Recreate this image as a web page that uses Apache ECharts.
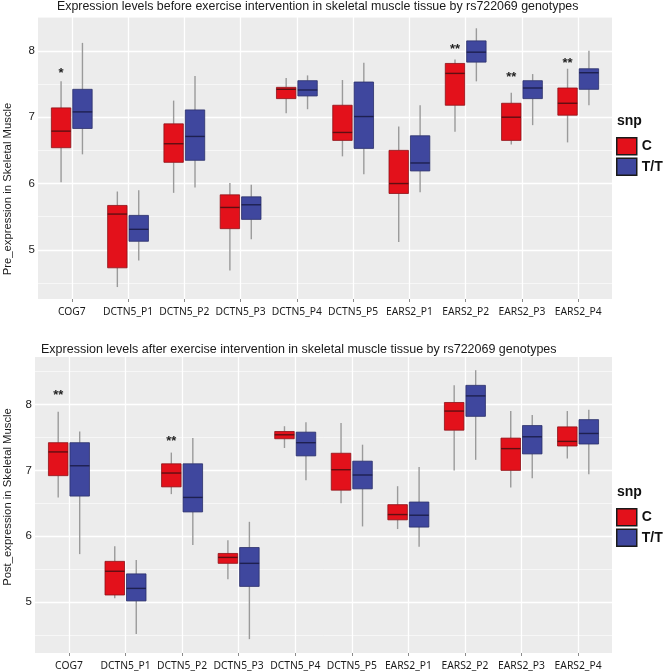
<!DOCTYPE html>
<html>
<head>
<meta charset="utf-8">
<title>Expression levels by rs722069 genotypes</title>
<script src="https://cdn.jsdelivr.net/npm/echarts@6/dist/echarts.min.js"></script>
<style>
  html, body { margin: 0; padding: 0; background: #fff; }
  #main { width: 666px; height: 672px; }
</style>
</head>
<body>
<div id="main"></div>
<script>
// categories (probes)
const categories = ['COG7', 'DCTN5_P1', 'DCTN5_P2', 'DCTN5_P3', 'DCTN5_P4', 'DCTN5_P5', 'EARS2_P1', 'EARS2_P2', 'EARS2_P3', 'EARS2_P4'];
const yTicks = [5, 6, 7, 8];
const yMinorTicks = [4.5, 5.5, 6.5, 7.5, 8.5];

// box stats: [lower whisker, Q1, median, Q3, upper whisker]
// before exercise
const preC = [
  [6.02, 6.54, 6.79, 7.14, 7.54],
  [4.44, 4.73, 5.54, 5.67, 5.88],
  [5.86, 6.32, 6.60, 6.90, 7.25],
  [4.69, 5.32, 5.64, 5.83, 6.01],
  [7.06, 7.28, 7.42, 7.45, 7.59],
  [6.41, 6.65, 6.77, 7.18, 7.56],
  [5.12, 5.85, 6.00, 6.50, 6.86],
  [6.78, 7.18, 7.66, 7.81, 7.87],
  [6.59, 6.65, 7.00, 7.21, 7.37],
  [6.62, 7.03, 7.21, 7.44, 7.73]
];
const preTT = [
  [6.44, 6.83, 7.08, 7.42, 8.12],
  [4.84, 5.13, 5.31, 5.52, 5.90],
  [5.94, 6.35, 6.71, 7.11, 7.62],
  [5.16, 5.46, 5.68, 5.80, 5.98],
  [7.12, 7.32, 7.41, 7.55, 7.63],
  [6.14, 6.53, 7.01, 7.53, 7.82],
  [5.87, 6.19, 6.31, 6.72, 7.18],
  [7.54, 7.83, 7.98, 8.15, 8.34],
  [6.88, 7.28, 7.44, 7.55, 7.65],
  [7.18, 7.42, 7.67, 7.73, 8.00]
];
// after exercise
const postC = [
  [6.59, 6.92, 7.28, 7.42, 7.89],
  [5.06, 5.11, 5.47, 5.62, 5.85],
  [6.64, 6.75, 6.96, 7.10, 7.27],
  [5.35, 5.59, 5.68, 5.74, 5.94],
  [7.34, 7.48, 7.54, 7.59, 7.67],
  [6.50, 6.70, 7.01, 7.26, 7.72],
  [6.11, 6.25, 6.33, 6.48, 6.76],
  [7.00, 7.61, 7.90, 8.03, 8.29],
  [6.74, 7.00, 7.33, 7.49, 7.90],
  [7.18, 7.37, 7.44, 7.66, 7.90]
];
const postTT = [
  [5.73, 6.61, 7.07, 7.42, 7.59],
  [4.52, 5.02, 5.21, 5.43, 5.64],
  [5.87, 6.37, 6.59, 7.10, 7.49],
  [4.44, 5.24, 5.59, 5.83, 6.22],
  [6.85, 7.22, 7.42, 7.58, 7.73],
  [6.15, 6.72, 6.93, 7.14, 7.39],
  [5.84, 6.14, 6.32, 6.52, 7.05],
  [7.16, 7.82, 8.13, 8.29, 8.52],
  [6.88, 7.25, 7.51, 7.68, 7.84],
  [6.94, 7.40, 7.56, 7.77, 7.92]
];

// significance marks (category index, height, text)
const preStarCat = [0, 7, 8, 9];
const preStarY = [7.71, 8.07, 7.65, 7.86];
const preStarText = ['*', '**', '**', '**'];
const postStarCat = [0, 2];
const postStarY = [8.18, 7.49];
const postStarText = ['**', '**'];

const RED = '#E3111B';
const BLUE = '#3F479E';
const DODGE = 0.19;   // half dodge distance, in category units
const BOXW = 0.345;   // box width, in category units

function toBoxData(stats) {
  return stats.map((s, i) => [i + 1].concat(s));
}

function boxRenderer(side, fill, stroke, medianColor) {
  return function (params, api) {
    const x = api.value(0);
    const unit = api.size([1, 0])[0];
    const cx = api.coord([x, api.value(3)])[0] + side * DODGE * unit;
    const half = BOXW * unit / 2;
    const yLow = api.coord([x, api.value(1)])[1];
    const yQ1 = api.coord([x, api.value(2)])[1];
    const yMed = api.coord([x, api.value(3)])[1];
    const yQ3 = api.coord([x, api.value(4)])[1];
    const yHigh = api.coord([x, api.value(5)])[1];
    const whisker = { stroke: '#9a9a9a', lineWidth: 1.4 };
    return {
      type: 'group',
      children: [
        { type: 'line', shape: { x1: cx, y1: yHigh, x2: cx, y2: yQ3 }, style: whisker },
        { type: 'line', shape: { x1: cx, y1: yQ1, x2: cx, y2: yLow }, style: whisker },
        { type: 'rect', shape: { x: cx - half, y: yQ3, width: half * 2, height: yQ1 - yQ3 }, style: { fill: fill, stroke: stroke, lineWidth: 0.8 } },
        { type: 'line', shape: { x1: cx - half, y1: yMed, x2: cx + half, y2: yMed }, style: { stroke: medianColor, lineWidth: 1.4 } }
      ]
    };
  };
}

function starRenderer(texts) {
  return function (params, api) {
    const unit = api.size([1, 0])[0];
    const p = api.coord([api.value(0), api.value(1)]);
    return {
      type: 'text',
      x: p[0] - DODGE * unit,
      y: p[1] + 3,
      style: { text: texts[params.dataIndex], fill: '#222', font: 'bold 13px "Liberation Sans"', align: 'center', verticalAlign: 'middle' }
    };
  };
}

function boxSeries(name, stats, side, gridIdx, fill, stroke, medianColor) {
  return {
    name: name,
    type: 'custom',
    xAxisIndex: gridIdx,
    yAxisIndex: gridIdx * 2,
    itemStyle: { color: fill },
    encode: { x: 0, y: [1, 2, 3, 4, 5] },
    renderItem: boxRenderer(side, fill, stroke, medianColor),
    data: toBoxData(stats)
  };
}

function starSeries(cats, ys, texts, gridIdx) {
  return {
    type: 'custom',
    xAxisIndex: gridIdx,
    yAxisIndex: gridIdx * 2,
    encode: { x: 0, y: 1 },
    renderItem: starRenderer(texts),
    data: cats.map((c, i) => [c + 1, ys[i]])
  };
}

function xAxis(gridIdx, margin) {
  const vals = categories.map((c, i) => i + 1);
  return {
    gridIndex: gridIdx,
    type: 'value',
    min: 0.4,
    max: 10.6,
    axisLine: { show: false },
    axisTick: { show: true, length: 3, customValues: vals, lineStyle: { color: '#8a8a8a' } },
    axisLabel: {
      customValues: vals,
      margin: margin,
      formatter: v => categories[Math.round(v) - 1],
      fontFamily: 'Noto Sans',
      fontSize: 10.3,
      color: '#1a1a1a'
    },
    splitLine: { show: true, lineStyle: { color: '#ffffff', width: 1.3 } }
  };
}

function yAxes(gridIdx, min, max, name, gap, pad) {
  return [{
    gridIndex: gridIdx,
    type: 'value',
    min: min,
    max: max,
    name: name,
    nameLocation: 'middle',
    nameGap: gap,
    nameMoveOverlap: false,
    nameTextStyle: { fontFamily: 'Liberation Sans', fontSize: 11.3, color: '#1a1a1a', padding: pad },
    axisLine: { show: false },
    axisTick: { show: false, customValues: yTicks },
    axisLabel: { customValues: yTicks, margin: 3, fontFamily: 'Liberation Sans', fontSize: 11.5, color: '#1a1a1a' },
    splitLine: { show: true, lineStyle: { color: '#ffffff', width: 1.3 } }
  }, {
    gridIndex: gridIdx,
    type: 'value',
    min: min,
    max: max,
    axisLine: { show: false },
    axisTick: { show: false, customValues: yMinorTicks },
    axisLabel: { show: false, customValues: yMinorTicks },
    splitLine: { show: true, lineStyle: { color: '#ffffff', width: 0.6 } }
  }];
}

function legend(top) {
  return {
    orient: 'vertical',
    left: 616,
    top: top,
    padding: 0,
    itemWidth: 20,
    itemHeight: 17,
    itemGap: 2,
    icon: 'rect',
    selectedMode: false,
    data: ['C', 'T/T'],
    itemStyle: { borderColor: '#1a1a1a', borderWidth: 1.5 },
    textStyle: { fontFamily: 'Liberation Sans', fontSize: 14, fontWeight: 'bold', color: '#111', padding: [0, 0, 0, 0] }
  };
}

const chart = echarts.init(document.getElementById('main'), null, { renderer: 'canvas' });

chart.setOption({
  backgroundColor: '#ffffff',
  animation: false,
  title: [
    { text: 'Expression levels before exercise intervention in skeletal muscle tissue by rs722069 genotypes', left: 57, top: 1, padding: 0,
      textStyle: { fontFamily: 'Liberation Sans', fontSize: 12.4, fontWeight: 'normal', color: '#1a1a1a' } },
    { text: 'Expression levels after exercise intervention in skeletal muscle tissue by rs722069 genotypes', left: 41, top: 343, padding: 0,
      textStyle: { fontFamily: 'Liberation Sans', fontSize: 12.5, fontWeight: 'normal', color: '#1a1a1a' } },
    { text: 'snp', left: 617, top: 114, padding: 0, textStyle: { fontFamily: 'Liberation Sans', fontSize: 14, fontWeight: 'bold', color: '#111' } },
    { text: 'snp', left: 617, top: 485, padding: 0, textStyle: { fontFamily: 'Liberation Sans', fontSize: 14, fontWeight: 'bold', color: '#111' } }
  ],
  legend: [legend(137), legend(508)],
  grid: [
    { left: 38, top: 17, width: 574, height: 282, show: true, backgroundColor: '#ECECEC', borderWidth: 0, outerBoundsMode: 'none' },
    { left: 35, top: 357, width: 577, height: 296, show: true, backgroundColor: '#ECECEC', borderWidth: 0, outerBoundsMode: 'none' }
  ],
  xAxis: [xAxis(0, 8), xAxis(1, 8)],
  yAxis: yAxes(0, 4.26, 8.51, 'Pre_expression in Skeletal Muscle', 24.5, [0, 62, 0, 0])
    .concat(yAxes(1, 4.23, 8.72, 'Post_expression in Skeletal Muscle', 21.5, [0, 0, 0, 16])),
  series: [
    boxSeries('C', preC, -1, 0, RED, '#8E1016', '#5E0F12'),
    boxSeries('T/T', preTT, 1, 0, BLUE, '#2A2F6A', '#1E2050'),
    starSeries(preStarCat, preStarY, preStarText, 0),
    boxSeries('C', postC, -1, 1, RED, '#8E1016', '#5E0F12'),
    boxSeries('T/T', postTT, 1, 1, BLUE, '#2A2F6A', '#1E2050'),
    starSeries(postStarCat, postStarY, postStarText, 1)
  ]
});
</script>
</body>
</html>
